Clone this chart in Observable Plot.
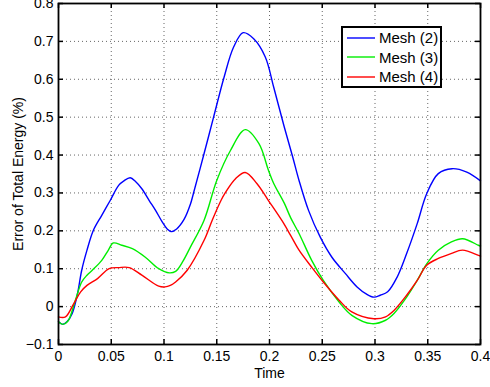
<!DOCTYPE html>
<html><head><meta charset="utf-8">
<script src="https://cdn.jsdelivr.net/npm/d3@7"></script>
<script src="https://cdn.jsdelivr.net/npm/@observablehq/plot@0.6"></script>
<style>
body{margin:0;background:#fff;font-family:"Liberation Sans",Arial,Helvetica,sans-serif;}
#wrap{position:relative;width:490px;height:387px;overflow:hidden;}
#legend{position:absolute;left:341px;top:26px;width:101px;height:62px;box-sizing:border-box;border:2px solid #000;background:#fff;font-size:15px;}
#legend .row{display:flex;align-items:center;height:19.5px;}
#legend svg{margin-left:4px;margin-right:4px;}
</style></head>
<body>
<div id="wrap"><div id="chart"></div><div id="legend"></div></div>
<script>
const seriesNames = ["Mesh (2)", "Mesh (3)", "Mesh (4)"];
const xTicks = [0, 0.05, 0.1, 0.15, 0.2, 0.25, 0.3, 0.35, 0.4];
const yTicks = [-0.1, 0, 0.1, 0.2, 0.3, 0.4, 0.5, 0.6, 0.7, 0.8];

const mesh2X = [0,0.004,0.008,0.013,0.018,0.022,0.027,0.033,0.041,0.049,0.057,0.062,0.068,0.073,0.079,0.086,0.092,0.098,0.103,0.107,0.112,0.119,0.125,0.128,0.138,0.147,0.157,0.166,0.175,0.185,0.196,0.204,0.214,0.222,0.228,0.237,0.248,0.259,0.272,0.283,0.292,0.299,0.305,0.312,0.321,0.33,0.34,0.349,0.36,0.373,0.387,0.4];
const mesh2Y = [-0.04,-0.047,-0.04,-0.018,0.034,0.096,0.149,0.201,0.241,0.28,0.32,0.332,0.34,0.33,0.311,0.28,0.254,0.225,0.205,0.198,0.205,0.23,0.27,0.3,0.404,0.5,0.606,0.685,0.723,0.707,0.659,0.579,0.474,0.395,0.333,0.254,0.184,0.131,0.087,0.052,0.033,0.025,0.03,0.039,0.078,0.14,0.219,0.298,0.351,0.364,0.355,0.332];

const mesh3X = [0,0.004,0.009,0.016,0.022,0.027,0.032,0.041,0.047,0.052,0.06,0.07,0.082,0.095,0.105,0.111,0.118,0.125,0.138,0.15,0.163,0.177,0.19,0.199,0.204,0.214,0.22,0.228,0.24,0.251,0.266,0.278,0.297,0.31,0.318,0.33,0.34,0.349,0.36,0.372,0.383,0.398,0.4];
const mesh3Y = [-0.04,-0.047,-0.038,0.017,0.065,0.083,0.096,0.122,0.148,0.168,0.162,0.153,0.131,0.1,0.089,0.093,0.12,0.157,0.228,0.333,0.412,0.467,0.43,0.36,0.325,0.273,0.235,0.193,0.122,0.069,0.012,-0.023,-0.045,-0.036,-0.018,0.025,0.069,0.113,0.149,0.17,0.179,0.162,0.16];

const mesh4X = [0,0.0066,0.0145,0.021,0.027,0.037,0.048,0.057,0.067,0.079,0.095,0.101,0.106,0.111,0.122,0.138,0.146,0.154,0.158,0.168,0.177,0.188,0.199,0.212,0.22,0.228,0.24,0.251,0.266,0.278,0.299,0.31,0.318,0.33,0.34,0.349,0.36,0.372,0.383,0.398,0.4];
const mesh4Y = [-0.027,-0.027,0.008,0.039,0.056,0.074,0.1,0.103,0.103,0.083,0.054,0.052,0.056,0.065,0.096,0.175,0.23,0.28,0.3,0.338,0.354,0.325,0.28,0.226,0.188,0.149,0.104,0.065,0.017,-0.014,-0.032,-0.027,-0.01,0.03,0.069,0.109,0.127,0.14,0.149,0.135,0.133];

const seriesColors = ["#0000ff", "#00ee00", "#ff0000"];
const xs = [mesh2X, mesh3X, mesh4X];
const ys = [mesh2Y, mesh3Y, mesh4Y];
const rows = [];
seriesNames.forEach((name, i) => xs[i].forEach((x, j) => rows.push({series: name, x, y: ys[i][j]})));

const W = 490, H = 387, mL = 58, mR = 10, mT = 3, mB = 43;
const pW = W - mL - mR, pH = H - mT - mB, tk = 5;
const fmtY = d => d === 0 ? "0" : d3.format(".1f")(d);
const fmtX = d => d === 0 ? "0" : String(+d.toFixed(2));
const gridStyle = {stroke: "#555", strokeOpacity: 0.9, strokeDasharray: "1,3", strokeWidth: 1};

const chart = Plot.plot({
  width: W, height: H,
  marginLeft: mL, marginRight: mR, marginTop: mT, marginBottom: mB,
  style: {fontFamily: "Liberation Sans, Arial, Helvetica, sans-serif", fontSize: "14px", background: "white", color: "black"},
  x: {domain: [0, 0.4]},
  y: {domain: [-0.1, 0.8]},
  color: {domain: seriesNames, range: seriesColors},
  marks: [
    Plot.gridX(xTicks, gridStyle),
    Plot.gridY(yTicks, gridStyle),
    Plot.line(rows, {x: "x", y: "y", z: "series", stroke: "series", strokeWidth: 1.4, curve: "catmull-rom"}),
    Plot.tickX(xTicks, {x: d => d, insetTop: pH - tk, stroke: "black", strokeWidth: 1.5}),
    Plot.tickX(xTicks, {x: d => d, insetBottom: pH - tk, stroke: "black", strokeWidth: 1.5}),
    Plot.tickY(yTicks, {y: d => d, insetRight: pW - tk, stroke: "black", strokeWidth: 1.5}),
    Plot.tickY(yTicks, {y: d => d, insetLeft: pW - tk, stroke: "black", strokeWidth: 1.5}),
    Plot.frame({stroke: "black", strokeWidth: 1.8}),
    Plot.axisX(xTicks, {tickSize: 0, tickPadding: 7, tickFormat: fmtX, label: "Time", labelAnchor: "center", labelOffset: 33, labelArrow: "none"}),
    Plot.axisY(yTicks, {tickSize: 0, tickPadding: 5, tickFormat: fmtY, label: "Error of Total Energy (%)", labelAnchor: "center", labelOffset: 45, labelArrow: "none"})
  ]
});
document.getElementById("chart").appendChild(chart);

const legend = d3.select("#legend");
seriesNames.forEach((name, i) => {
  const row = legend.append("div").attr("class", "row");
  const s = row.append("svg").attr("width", 28).attr("height", 4);
  s.append("line").attr("x1", 0).attr("x2", 28).attr("y1", 2).attr("y2", 2).attr("stroke", seriesColors[i]).attr("stroke-width", 1.4);
  row.append("span").text(name);
});
</script>
</body></html>
